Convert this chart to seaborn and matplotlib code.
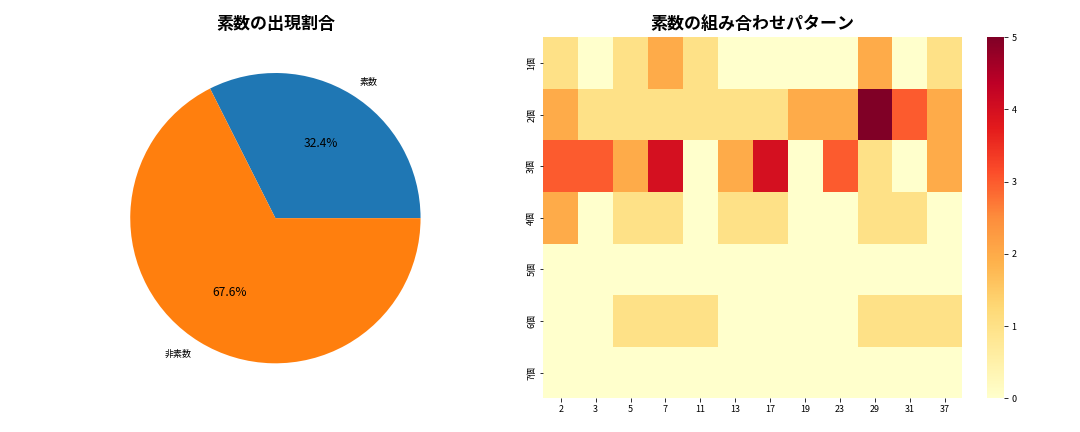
import matplotlib
matplotlib.use("Agg")
import matplotlib.pyplot as plt
import seaborn as sns
import numpy as np
import pandas as pd

plt.rcParams['font.family'] = ['Noto Sans CJK JP', 'DejaVu Sans']

pie_labels = ['素数', '非素数']
pie_values = [12, 25]

row_labels = ['1個', '2個', '3個', '4個', '5個', '6個', '7個']
col_labels = [2, 3, 5, 7, 11, 13, 17, 19, 23, 29, 31, 37]
row1 = [1, 0, 1, 2, 1, 0, 0, 0, 0, 2, 0, 1]
row2 = [2, 1, 1, 1, 1, 1, 1, 2, 2, 5, 3, 2]
row3 = [3, 3, 2, 4, 0, 2, 4, 0, 3, 1, 0, 2]
row4 = [2, 0, 1, 1, 0, 1, 1, 0, 0, 1, 1, 0]
row5 = [0, 0, 0, 0, 0, 0, 0, 0, 0, 0, 0, 0]
row6 = [0, 0, 1, 1, 1, 0, 0, 0, 0, 1, 1, 1]
row7 = [0, 0, 0, 0, 0, 0, 0, 0, 0, 0, 0, 0]

df = pd.DataFrame([row1, row2, row3, row4, row5, row6, row7], index=row_labels, columns=col_labels)

fig = plt.figure(figsize=(15, 6), dpi=72)
ax1 = fig.add_axes([0.03, 0.075, 0.45, 0.84])
ax2 = fig.add_axes([0.503, 0.078, 0.388, 0.836])
cax = fig.add_axes([0.914, 0.078, 0.016, 0.836])
colors = sns.color_palette()[:2]
ax1.pie(pie_values, labels=pie_labels, autopct='%1.1f%%', colors=colors,
        textprops={'fontsize': 9})
for t in ax1.texts:
    if '%' in t.get_text():
        t.set_fontsize(12)
ax1.set_title('素数の出現割合', fontsize=17, fontweight='bold', pad=8)

sns.heatmap(df, cmap='YlOrRd', vmin=0, vmax=5, ax=ax2, cbar_ax=cax)
ax2.set_title('素数の組み合わせパターン', fontsize=17, fontweight='bold', pad=8)
ax2.tick_params(labelsize=9)
cax.tick_params(labelsize=9)
fig.savefig('out.png')
